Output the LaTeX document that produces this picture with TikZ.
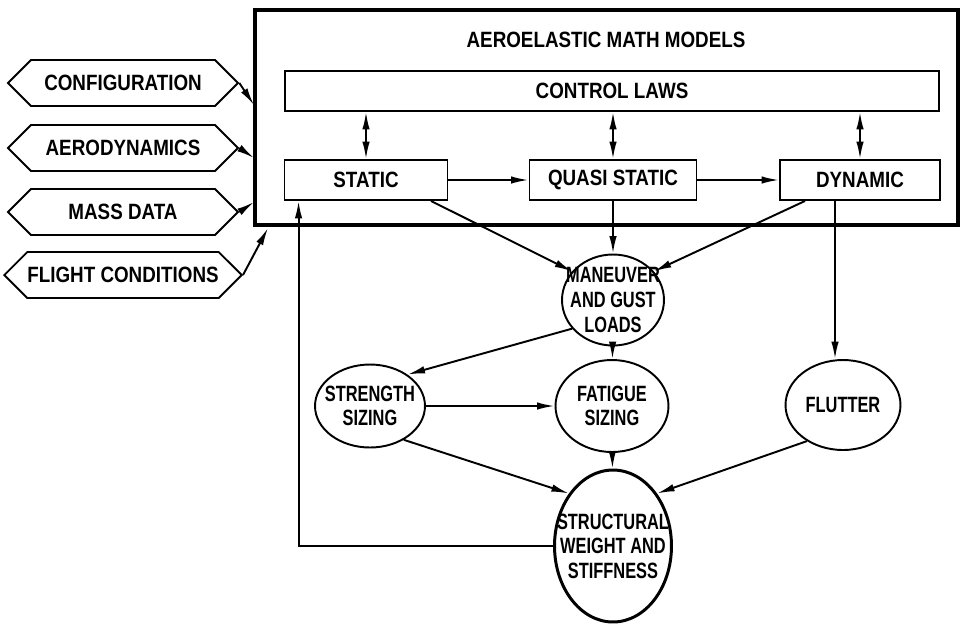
\documentclass[tikz,border=0pt]{standalone}
\usepackage{fontspec}
\setmainfont{Liberation Sans}[FakeStretch=0.85]
\newfontfamily\ovalfont{Liberation Sans}[FakeStretch=0.74]
\usetikzlibrary{positioning,calc,arrows.meta,shapes.geometric,shapes.symbols}
\tikzset{>={Latex[length=3.5mm,width=1.5mm]}}
\tikzset{hexbox/.style={draw,line width=1.1pt,shape=signal,signal to=west and east,signal pointer angle=90,minimum width=4.6cm,minimum height=0.92cm,inner sep=0pt,font=\bfseries\fontsize{12.6}{15}\selectfont}  }
\tikzset{modbox/.style={draw,line width=1.1pt,rectangle,inner sep=0pt,minimum height=0.8cm,font=\bfseries\fontsize{12.6}{15}\selectfont}  }
\tikzset{oval/.style={draw,ellipse,line width=1.1pt,inner xsep=-0.4cm,inner ysep=-0.2cm,align=center,font=\ovalfont\bfseries\fontsize{12.6}{14}\selectfont}  }
\tikzset{flow/.style={->,line width=1.1pt}  }

\begin{document}
\begin{tikzpicture}[x=0.02cm,y=-0.02cm]
	\useasboundingbox (0,0) rectangle (961,627);
		\draw[line width=2.8pt] (255,10) rectangle (958,225);
		\node[font=\bfseries\fontsize{12.6}{15}\selectfont] (title) at (606,40) {AEROELASTIC MATH MODELS};
		\node[modbox,minimum width=13.1cm] (cl) at (612,91) {CONTROL LAWS};
		\node[modbox,minimum width=3.26cm] (st) at (366,180) {STATIC};
		\node[modbox,minimum width=3.34cm] (qs) at (613,180) {QUASI STATIC};
		\node[modbox,minimum width=3.2cm] (dy) at (860,180) {DYNAMIC};

			\node[hexbox] (cfg) at (123,83) {CONFIGURATION};
			\node[hexbox] (aero) at (123,148) {AERODYNAMICS};
			\node[hexbox] (mass) at (123,212) {MASS DATA};
			\node[hexbox] (fc) at (123,275) {FLIGHT CONDITIONS};
			\coordinate (in1) at (254,105);
			\coordinate (in2) at (254,158);
			\coordinate (in3) at (254,202);
			\coordinate (in4) at (268,228);

		\node[oval,minimum width=2.04cm,minimum height=1.82cm] (mg) at (613,300) {MANEUVER\\AND GUST\\LOADS};
		\node[oval,minimum width=2.2cm,minimum height=1.66cm] (ss) at (370,406) {STRENGTH\\SIZING};
		\node[oval,minimum width=2.26cm,minimum height=1.84cm] (fs) at (612,406) {FATIGUE\\SIZING};
		\node[oval,minimum width=2.3cm,minimum height=1.8cm] (fl) at (843,405) {FLUTTER};
		\node[oval,line width=1.7pt,minimum width=2.34cm,minimum height=3.04cm] (sw) at (613,546) {STRUCTURAL\\WEIGHT AND\\STIFFNESS};
			\coordinate (dyo) at ([xshift=-0.5cm]dy.south);

			\draw[flow] (cfg.east) -- (in1);
			\draw[flow] (aero.east) -- (in2);
			\draw[flow] (mass.east) -- (in3);
			\draw[flow] (fc.east) -- (in4);

			\draw[flow,<->] (cl.south -| st) -- (st);
			\draw[flow,<->] (cl.south -| qs) -- (qs);
			\draw[flow,<->] (cl.south -| dy) -- (dy);
			\draw[flow] (st) -- (qs);
			\draw[flow] (qs) -- (dy);
			\draw[flow] ([xshift=1.3cm]st.south) -- (mg.145);
			\draw[flow] (qs) -- (mg);
			\draw[flow] ([xshift=-1.1cm]dy.south) -- (mg.35);
			\draw[flow] (dyo) -- (fl.north -| dyo);
			\draw[flow] (mg.215) -- (ss.40);
			\draw[flow] (mg) -- (fs);
			\draw[flow] (ss) -- (fs);
			\draw[flow] (ss.315) -- (sw.130);
			\draw[flow] (fs) -- (sw);
			\draw[flow] (fl.225) -- (sw.50);
			\draw[flow] (sw.west) -| ([xshift=0.3cm]st.south west);
	\end{tikzpicture}
\end{document}
